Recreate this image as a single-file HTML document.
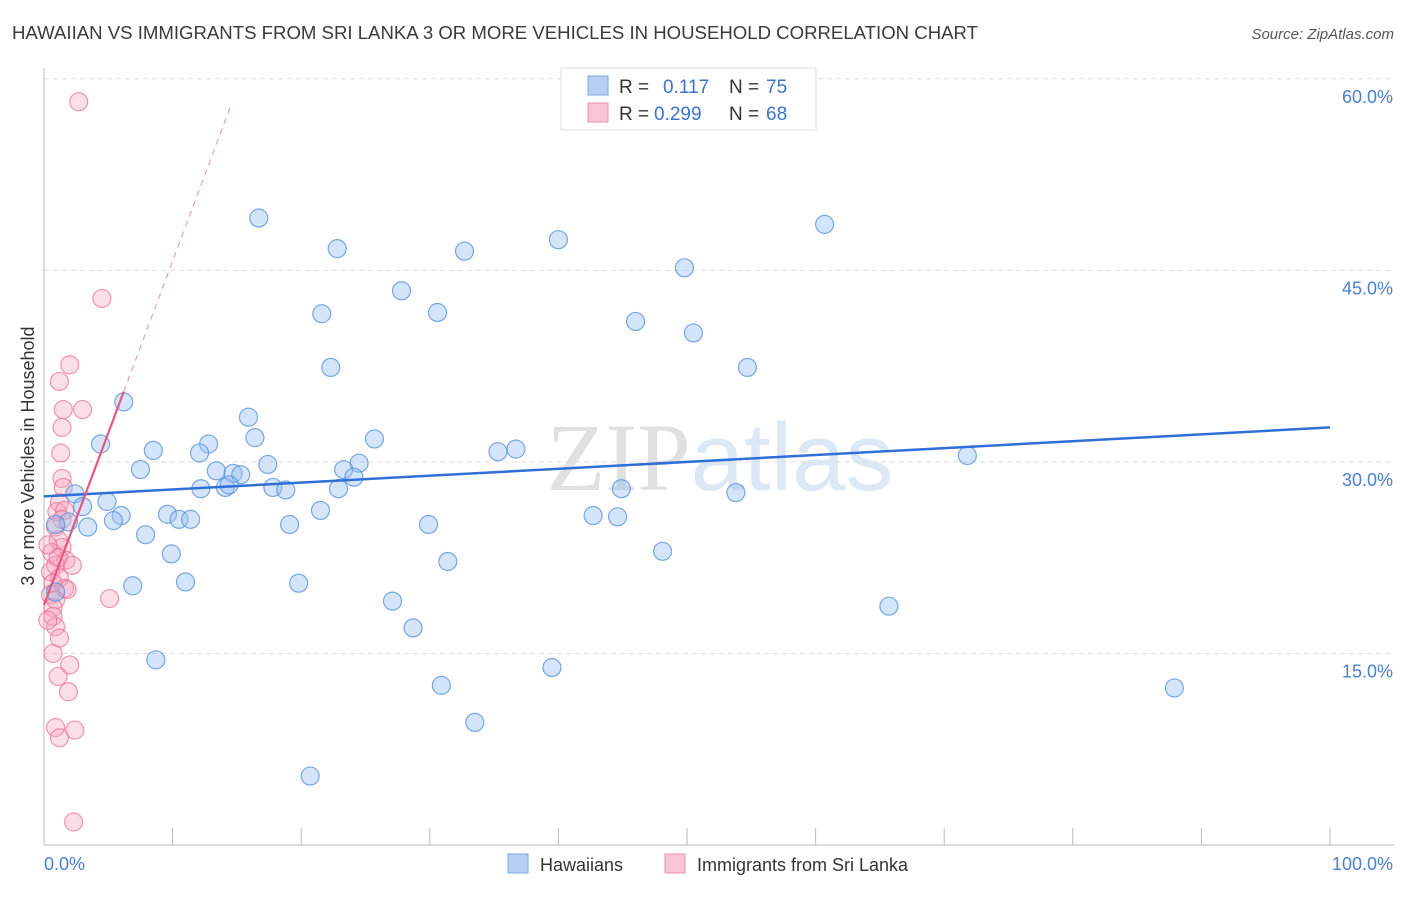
<!DOCTYPE html>
<html><head><meta charset="utf-8"><style>
body{margin:0;background:#fff;font-family:"Liberation Sans",sans-serif}
svg text{font-family:"Liberation Sans",sans-serif}
</style></head><body>
<svg id="chart" width="1406" height="892" xmlns="http://www.w3.org/2000/svg">
<text x="12" y="39" font-size="18.6" fill="#3a3a3a">HAWAIIAN VS IMMIGRANTS FROM SRI LANKA 3 OR MORE VEHICLES IN HOUSEHOLD CORRELATION CHART</text>
<text x="1394" y="39" font-size="15" fill="#555" text-anchor="end" font-style="italic">Source: ZipAtlas.com</text>
<text x="720" y="490" font-size="96" text-anchor="middle" fill="#e4e4e4"><tspan font-family="Liberation Serif" fill="#e0e0e0">ZIP</tspan><tspan fill="#dce8f6">atlas</tspan></text>
<g id="grid"></g>
<line x1="44" y1="68" x2="44" y2="845" stroke="#bbb"/>
<line x1="44" y1="845" x2="1394" y2="845" stroke="#bbb"/>
<g id="xticks"></g>
<text transform="translate(34,456) rotate(-90)" font-size="18" fill="#333" text-anchor="middle">3 or more Vehicles in Household</text>
<text x="44" y="870" font-size="18" fill="#4a7fd0">0.0%</text>
<text x="1393" y="870" font-size="18" fill="#4a7fd0" text-anchor="end">100.0%</text>
<g id="pts"></g>
<g id="lines"></g>
<g>
<rect x="561" y="68" width="255" height="62" fill="#fff" stroke="#ddd"/>
<rect x="588" y="76" width="20" height="19" fill="#b5d0f3" stroke="#7aa6e0"/>
<rect x="588" y="103" width="20" height="19" fill="#f9c6d5" stroke="#ee8fab"/>
<text x="619" y="93" font-size="19" fill="#333">R =</text><text x="663" y="93" font-size="19" fill="#3b72cc">0.117</text>
<text x="729" y="93" font-size="19" fill="#333">N =</text><text x="766" y="93" font-size="19" fill="#3b72cc">75</text>
<text x="619" y="120" font-size="19" fill="#333">R =</text><text x="654" y="120" font-size="19" fill="#3b72cc">0.299</text>
<text x="729" y="120" font-size="19" fill="#333">N =</text><text x="766" y="120" font-size="19" fill="#3b72cc">68</text>
</g>
<g><rect x="508" y="854" width="20" height="19" fill="#b5d0f3" stroke="#7aa6e0"/><text x="540" y="871" font-size="18" fill="#333">Hawaiians</text></g>
<g><rect x="665" y="854" width="20" height="19" fill="#f9c6d5" stroke="#ee8fab"/><text x="697" y="871" font-size="18" fill="#333">Immigrants from Sri Lanka</text></g>
</svg>
<script>
const yTicks=[15,30,45,60];
const yTickLabels=["15.0%","30.0%","45.0%","60.0%"];
const xTicks=[0,10,20,30,40,50,60,70,80,90,100];
const blueX=[16.7,22.8,32.7,40.0,60.7,49.8,27.8,21.6,30.6,46.0,50.5,22.3,54.7,6.2,15.9,16.4,25.7,4.4,8.5,12.8,12.1,35.3,36.7,71.8,7.5,17.4,13.4,14.7,15.3,24.5,23.3,24.1,12.2,14.1,14.4,17.8,18.8,22.9,44.9,53.8,2.4,4.9,3.0,9.6,6.0,21.5,42.7,44.6,10.5,11.4,3.4,5.4,1.9,19.1,29.9,7.9,48.1,9.9,31.4,6.9,11.0,19.8,0.9,27.1,65.7,28.7,8.7,39.5,30.9,87.9,33.5,20.7,0.9];
const blueY=[49.1,46.7,46.5,47.4,48.6,45.2,43.4,41.6,41.7,41.0,40.1,37.4,37.4,34.7,33.5,31.9,31.8,31.4,30.9,31.4,30.7,30.8,31.0,30.5,29.4,29.8,29.3,29.1,29.0,29.9,29.4,28.8,27.9,28.0,28.2,28.0,27.8,27.9,27.9,27.6,27.5,26.9,26.5,25.9,25.8,26.2,25.8,25.7,25.5,25.5,24.9,25.4,25.3,25.1,25.1,24.3,23.0,22.8,22.2,20.3,20.6,20.5,19.8,19.1,18.7,17.0,14.5,13.9,12.5,12.3,9.6,5.4,25.1];
const pinkX=[2.7,4.5,2.0,1.2,1.5,3.0,1.4,1.3,1.4,1.5,1.2,1.0,0.9,1.6,1.1,1.4,0.6,1.7,0.9,2.2,0.5,1.2,0.7,1.6,1.8,0.5,0.9,5.1,0.7,0.7,0.9,1.2,0.7,2.0,1.1,1.9,0.9,2.4,1.2,2.3,1.4,1.1,0.3,0.3];
const pinkY=[58.2,42.8,37.6,36.3,34.1,34.1,32.7,30.7,28.7,28.0,26.8,26.1,24.9,26.2,23.9,23.3,22.9,22.3,21.9,21.9,21.4,20.9,20.5,20.1,20.0,19.6,19.2,19.3,18.6,17.9,17.1,16.2,15.0,14.1,13.2,12.0,9.2,9.0,8.4,1.8,25.5,22.5,23.5,17.6];
const blueLine=[[0,27.3],[100,32.7]];
const pinkLine=[[0,18.8],[6.2,35.5]];
const pinkDash=[[6.2,35.5],[14.6,58.1]];
const NS="http://www.w3.org/2000/svg";
const sx=v=>44+v*12.86, sy=v=>845-v*12.77;
function mk(t,a,p){const e=document.createElementNS(NS,t);for(const k in a)e.setAttribute(k,a[k]);document.getElementById(p).appendChild(e);return e;}
yTicks.forEach((t,i)=>{
 const l=mk('line',{x1:44,x2:1394,y1:sy(t),y2:sy(t),stroke:'#ddd','stroke-dasharray':'5,4'},'grid');
 
 
 const tx=mk('text',{x:1393,y:sy(t)+24,'font-size':18,fill:'#4a7fd0','text-anchor':'end'},'grid');
 tx.textContent=yTickLabels[i];
 
 
});
xTicks.forEach(t=>{
 const l=mk('line',{x1:sx(t),x2:sx(t),y1:828,y2:845,stroke:'#bbb'},'xticks');
 
 
});
pinkX.forEach((x,i)=>{
 const c=mk('circle',{cx:sx(x),cy:sy(pinkY[i]),r:9,fill:'rgba(245,160,185,0.35)',stroke:'rgba(232,110,145,0.7)','stroke-width':1.2},'pts');
 
 
});
blueX.forEach((x,i)=>{
 const c=mk('circle',{cx:sx(x),cy:sy(blueY[i]),r:9,fill:'rgba(150,190,240,0.4)',stroke:'rgba(80,140,220,0.75)','stroke-width':1.2},'pts');
 
 
});
function ln(d,col,w,dash,name){
 const l=mk('line',{x1:sx(d[0][0]),y1:sy(d[0][1]),x2:sx(d[1][0]),y2:sy(d[1][1]),stroke:col,'stroke-width':w},'lines');
 if(dash)l.setAttribute('stroke-dasharray',dash);
 
 
}
ln(blueLine,'#2f6fd6',2.5,null,'hawaiian-trend-line');
ln(pinkLine,'#e8557f',2.2,null,'sri-lanka-trend-line');
ln(pinkDash,'#eaa0b5',1.2,'6,5','sri-lanka-trend-extension');
</script>
</body></html>
